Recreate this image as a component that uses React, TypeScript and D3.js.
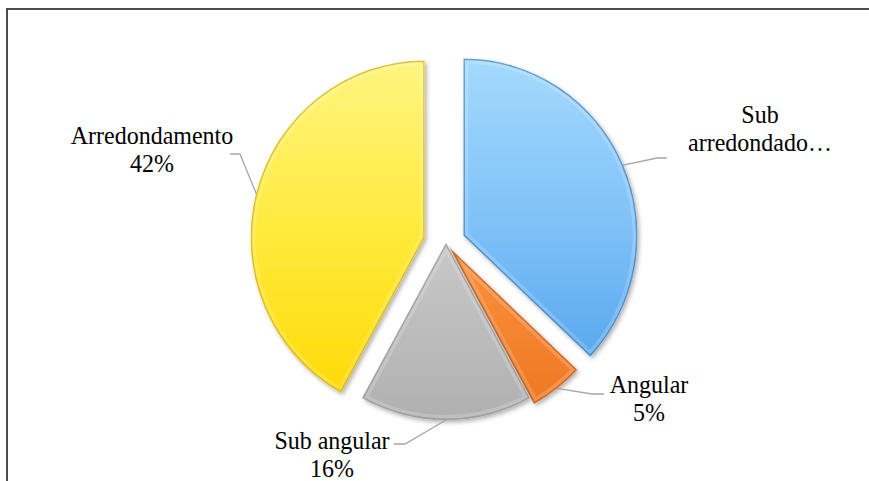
import React from "react";
import * as d3 from "d3";

const categories = ["Sub arredondado", "Angular", "Sub angular", "Arredondamento"];
const values = [37, 5, 16, 42];
const labelLines = [
  ["Sub", "arredondado…"],
  ["Angular", "5%"],
  ["Sub angular", "16%"],
  ["Arredondamento", "42%"],
];

const W = 869;
const H = 481;
const CX = 446;
const CY = 243;
const RY = 177;
const RX = 174;
const explode = [19, 7, 0, 22];
const colors = [
  { top: "#a4dafd", mid: "#7cbff7", bottom: "#4a9eea", edge: "#2f6fb0" },
  { top: "#ffac6a", mid: "#fb913f", bottom: "#ee7420", edge: "#b8520e" },
  { top: "#dedede", mid: "#c8c8c8", bottom: "#b0b0b0", edge: "#8a8a8a" },
  { top: "#fff580", mid: "#ffe93a", bottom: "#ffd800", edge: "#c4a200" },
];
const labelLayout = [
  { x: 760, y: 123, elbow: [657, 158], end: [667, 158] },
  { x: 649, y: 393, elbow: [592, 394], end: [604, 394] },
  { x: 332, y: 449, elbow: [405, 444], end: [394, 444] },
  { x: 152, y: 144, elbow: [240, 154], end: [230, 154] },
];
const FONT = "'Liberation Serif', 'DejaVu Serif', 'Times New Roman', serif";
const FS = 26;
const SXT = 0.923;

export default function App() {
  const pie = d3.pie<number>().sort(null).value((d) => d);
  const arcs = pie(values);
  const arc = d3.arc<d3.PieArcDatum<number>>().innerRadius(0).outerRadius(RY);
  const sx = RX / RY;

  return (
    <div style={{ position: "fixed", left: 0, top: 0 }}>
      <svg width={W} height={H} style={{ display: "block", background: "#fff" }}>
        <defs>
          {colors.map((c, i) => (
            <linearGradient
              key={i}
              id={`g${i}`}
              gradientUnits="userSpaceOnUse"
              x1={0}
              y1={-RY}
              x2={0}
              y2={RY}
            >
              <stop offset="0%" stopColor={c.top} />
              <stop offset="50%" stopColor={c.mid} />
              <stop offset="100%" stopColor={c.bottom} />
            </linearGradient>
          ))}
          <filter id="sh" x="-20%" y="-20%" width="140%" height="140%">
            <feDropShadow dx="2" dy="2.5" stdDeviation="2" floodColor="#000" floodOpacity="0.3" />
          </filter>
          {arcs.map((a, i) => (
            <clipPath id={`c${i}`} key={i}>
              <path d={arc(a) || ""} />
            </clipPath>
          ))}
        </defs>
        <rect x={7} y={9} width={W} height={H} fill="none" stroke="#222" strokeWidth={1.6} />
        {arcs.map((a, i) => {
          const mid = (a.startAngle + a.endAngle) / 2;
          const dx = explode[i] * Math.sin(mid);
          const dy = -explode[i] * Math.cos(mid);
          return (
            <g key={i} transform={`translate(${CX + dx},${CY + dy}) scale(${sx},1)`}>
              <path d={arc(a) || ""} fill={`url(#g${i})`} filter="url(#sh)" />
              <g clipPath={`url(#c${i})`}>
                <path d={arc(a) || ""} fill="none" stroke="#fff" strokeOpacity={0.18} strokeWidth={10} />
                <path d={arc(a) || ""} fill="none" stroke={colors[i].edge} strokeOpacity={0.6} strokeWidth={3} />
              </g>
            </g>
          );
        })}
        {arcs.map((a, i) => {
          const mid = (a.startAngle + a.endAngle) / 2;
          const vx = CX + explode[i] * Math.sin(mid);
          const vy = CY - explode[i] * Math.cos(mid);
          const sxp = vx + RX * Math.sin(mid);
          const syp = vy - RY * Math.cos(mid);
          const L = labelLayout[i];
          return (
            <g key={`l${i}`}>
              <polyline
                points={`${sxp},${syp} ${L.elbow[0]},${L.elbow[1]} ${L.end[0]},${L.end[1]}`}
                fill="none"
                stroke="#a6a6a6"
                strokeWidth={1.3}
              />
              <g transform={`translate(${L.x},0) scale(${SXT},1)`}>
                <text textAnchor="middle" fontFamily={FONT} fontSize={FS} fill="#000">
                  {labelLines[i].map((t, j) => (
                    <tspan key={j} x={0} y={L.y + j * 28}>
                      {t}
                    </tspan>
                  ))}
                </text>
              </g>
            </g>
          );
        })}
      </svg>
    </div>
  );
}
